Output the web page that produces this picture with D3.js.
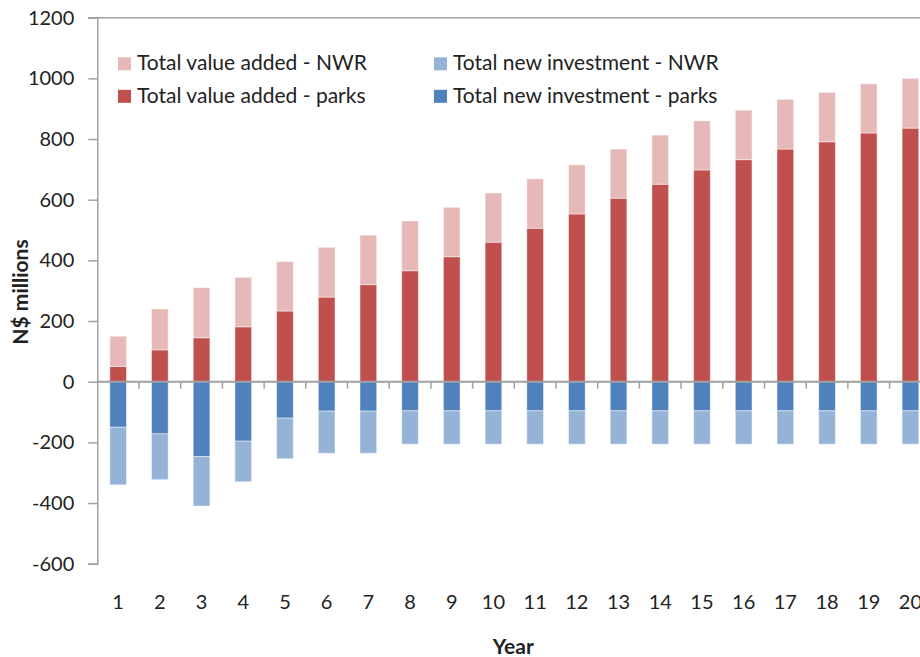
<!DOCTYPE html>
<html>
<head>
<meta charset="utf-8">
<script src="https://cdn.jsdelivr.net/npm/d3@7"></script>
<style>
  body { margin: 0; background: #fff; }
  svg { display: block; font-family: Lato, "Open Sans", sans-serif; }
</style>
</head>
<body>
<svg width="920" height="657"></svg>
<script>
const years = ["1","2","3","4","5","6","7","8","9","10","11","12","13","14","15","16","17","18","19","20"];
const valueAddedParks = [50,105,145,181,233,279,320,366,412,460,506,553,605,651,698,732,767,791,820,836];
const valueAddedNWR = [100,135,165,163,163,164,163,164,163,162,163,162,162,162,162,163,164,163,162,164];
const investParks = [-150,-172,-247,-196,-120,-97,-97,-96,-96,-96,-96,-96,-96,-96,-96,-96,-96,-96,-96,-96];
const investNWR = [-190,-151,-163,-134,-134,-139,-139,-110,-110,-110,-110,-110,-110,-110,-110,-110,-110,-110,-110,-110];
const yTicks = [-600,-400,-200,0,200,400,600,800,1000,1200];

const seriesKeys = ["vaParks","vaNWR","invParks","invNWR"];
const colors = {
  vaNWR: "#E6B9B8",
  vaParks: "#C0504D",
  invNWR: "#95B3D7",
  invParks: "#4F81BD"
};
const legendItems = [
  { key: "vaNWR", label: "Total value added - NWR", col: 0, row: 0 },
  { key: "invNWR", label: "Total new investment - NWR", col: 1, row: 0 },
  { key: "vaParks", label: "Total value added - parks", col: 0, row: 1 },
  { key: "invParks", label: "Total new investment - parks", col: 1, row: 1 }
];

const svg = d3.select("svg");
const plotLeft = 97.3, plotRight = 931.3, plotTop = 17.7, plotBottom = 563.7;

const rows = years.map((yr, i) => ({
  year: yr,
  vaParks: valueAddedParks[i],
  vaNWR: valueAddedNWR[i],
  invParks: investParks[i],
  invNWR: investNWR[i]
}));

const stacked = d3.stack()
  .keys(seriesKeys)
  .offset(d3.stackOffsetDiverging)(rows);

const x = d3.scaleBand()
  .domain(years)
  .range([plotLeft, plotRight])
  .paddingInner(0.6)
  .paddingOuter(0.3);

const y = d3.scaleLinear()
  .domain([-600, 1200])
  .range([plotBottom, plotTop]);

const axisColor = "#A0A0A0";
const textColor = "#222";

// bars
svg.append("g")
  .selectAll("g")
  .data(stacked)
  .join("g")
  .attr("fill", d => colors[d.key])
  .selectAll("rect")
  .data(d => d)
  .join("rect")
  .attr("x", d => x(d.data.year))
  .attr("width", x.bandwidth())
  .attr("y", d => y(Math.max(d[0], d[1])))
  .attr("height", d => Math.abs(y(d[0]) - y(d[1])))
  .attr("stroke", "#fff")
  .attr("stroke-opacity", 0.45)
  .attr("stroke-width", 1);

// top line
svg.append("line")
  .attr("x1", plotLeft - 9).attr("x2", 920)
  .attr("y1", y(1200)).attr("y2", y(1200))
  .attr("stroke", axisColor).attr("stroke-width", 1.5);

// y axis
const yAxis = svg.append("g")
  .attr("transform", `translate(${plotLeft},0)`)
  .call(d3.axisLeft(y).tickValues(yTicks).tickSize(9).tickPadding(14).tickFormat(d => String(d)));
yAxis.select(".domain").attr("stroke", axisColor).attr("stroke-width", 1.5);
yAxis.selectAll(".tick line").attr("stroke", axisColor).attr("stroke-width", 1.5);
yAxis.selectAll("text")
  .attr("fill", textColor)
  .style("font-size", "20px")
  .style("font-family", "Lato, sans-serif");

// category axis along zero
const zeroY = y(0);
const step = x.step();
svg.append("line")
  .attr("x1", plotLeft).attr("x2", 920)
  .attr("y1", zeroY).attr("y2", zeroY)
  .attr("stroke", axisColor).attr("stroke-width", 2);
svg.append("g")
  .selectAll("line")
  .data(years.slice(0, years.length - 1))
  .join("line")
  .attr("x1", d => x(d) + x.bandwidth() / 2 + step / 2)
  .attr("x2", d => x(d) + x.bandwidth() / 2 + step / 2)
  .attr("y1", zeroY)
  .attr("y2", zeroY + 7)
  .attr("stroke", axisColor)
  .attr("stroke-width", 1.5);

// x labels at bottom
const xAxis = svg.append("g")
  .attr("transform", `translate(0,${plotBottom})`)
  .call(d3.axisBottom(x).tickSize(0).tickPadding(31));
xAxis.select(".domain").remove();
xAxis.selectAll("text")
  .attr("fill", textColor)
  .style("font-size", "20px")
  .style("font-family", "Lato, sans-serif");

// axis titles
svg.append("text")
  .attr("x", (plotLeft + plotRight) / 2 - 1)
  .attr("y", 654)
  .attr("text-anchor", "middle")
  .attr("font-weight", "bold")
  .attr("font-size", 21)
  .attr("fill", textColor)
  .text("Year");

svg.append("text")
  .attr("transform", "translate(28,292) rotate(-90)")
  .attr("text-anchor", "middle")
  .attr("font-weight", "bold")
  .attr("font-size", 21)
  .attr("fill", textColor)
  .text("N$ millions");

// legend
const legend = svg.append("g");
const legendX = [118, 434];
const legendY = [57.3, 89.8];
const li = legend.selectAll("g")
  .data(legendItems)
  .join("g")
  .attr("transform", d => `translate(${legendX[d.col]},${legendY[d.row]})`);
li.append("rect")
  .attr("x", 0).attr("y", 0)
  .attr("width", 13).attr("height", 13)
  .attr("fill", d => colors[d.key]);
li.append("text")
  .attr("x", 19)
  .attr("y", 13)
  .attr("font-size", 21)
  .attr("fill", textColor)
  .text(d => d.label);
</script>
</body>
</html>
